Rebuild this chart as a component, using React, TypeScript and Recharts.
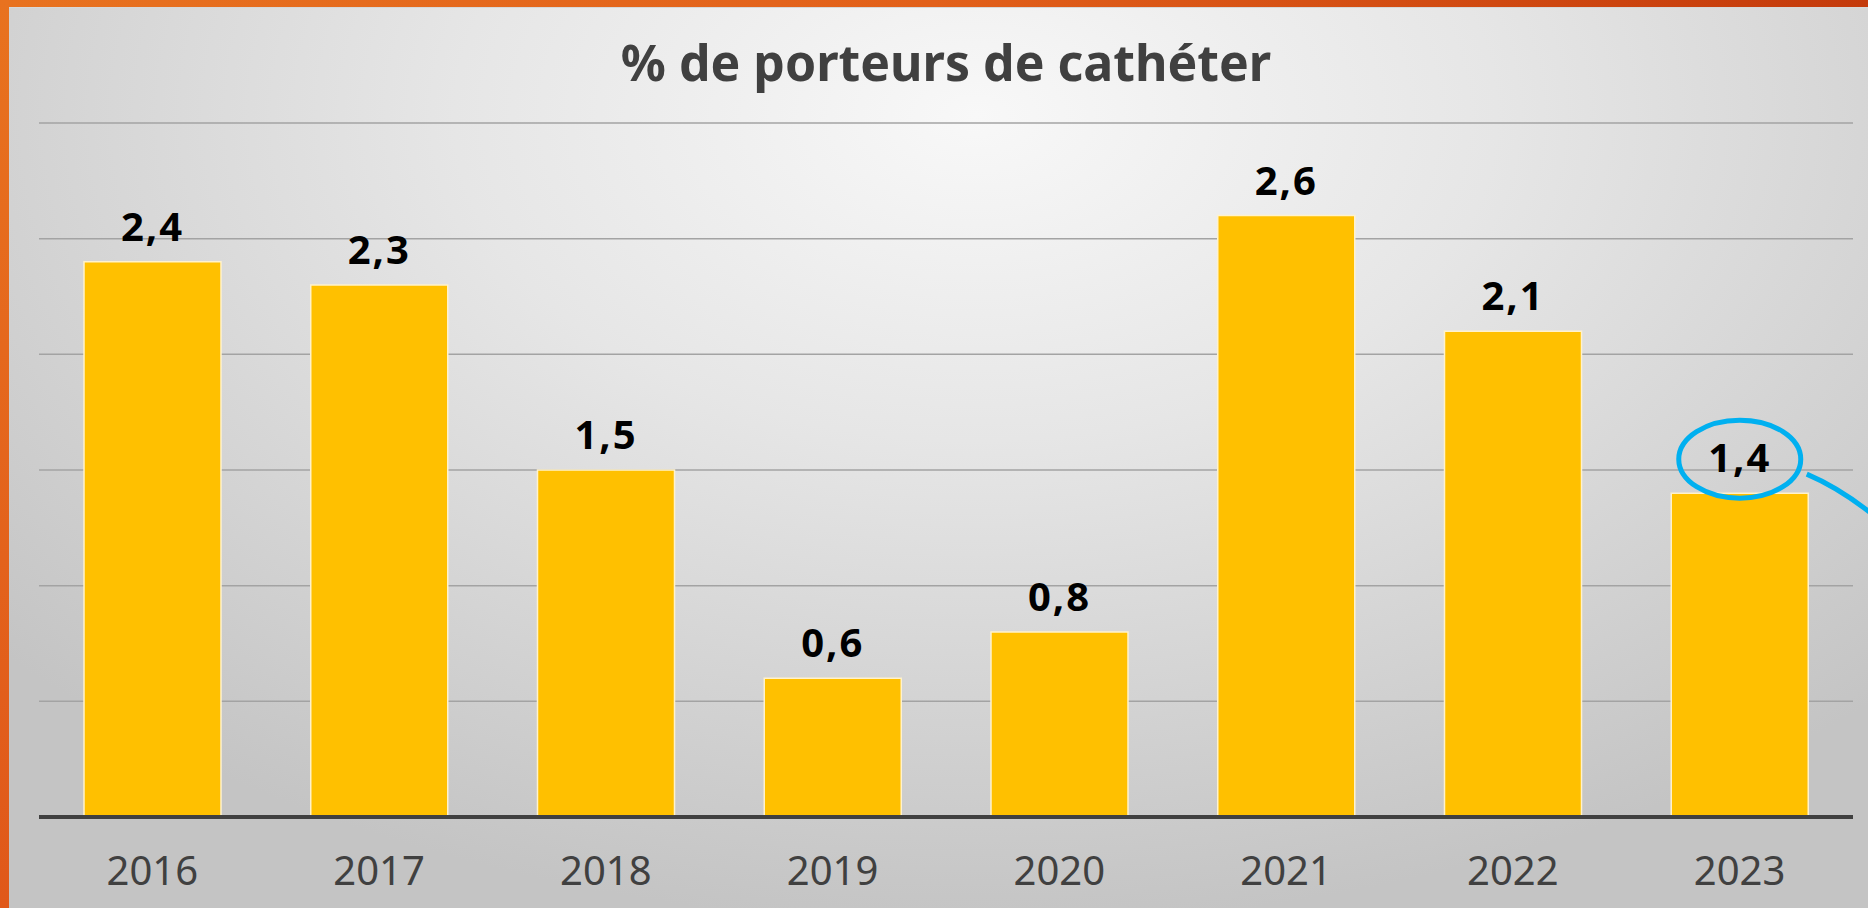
import { BarChart, Bar, XAxis, YAxis, CartesianGrid, LabelList } from "recharts";

const years = ["2016", "2017", "2018", "2019", "2020", "2021", "2022", "2023"];
const pct = [2.4, 2.3, 1.5, 0.6, 0.8, 2.6, 2.1, 1.4];
const yTicks = [0, 0.5, 1, 1.5, 2, 2.5, 3];

const data = years.map((year, i) => ({ year, pct: pct[i] }));

const FONT = "'Noto Sans', 'Open Sans', sans-serif";
const HIGHLIGHT = 7; // 2023 entouré en bleu

function ValueLabel(props: any) {
  const { x, y, width, value, index } = props;
  const cx = x + width / 2;
  const base = y - 21;
  const cy = base - 14;
  return (
    <g>
      <text
        x={cx}
        y={base}
        textAnchor="middle"
        fontFamily={FONT}
        fontWeight={700}
        fontSize={40}
        letterSpacing={2}
        fill="#000"
      >
        {Number(value).toFixed(1).replace(".", ",")}
      </text>
      {index === HIGHLIGHT && (
        <g fill="none" stroke="#00B0F0" strokeWidth={5}>
          <ellipse cx={cx} cy={cy + 1} rx={61} ry={39} />
          <path d={`M ${cx + 67} ${cy + 16} Q ${cx + 100} ${cy + 30} ${cx + 135} ${cy + 58}`} />
        </g>
      )}
    </g>
  );
}

export default function App() {
  return (
    <div
      style={{
        position: "fixed",
        left: 0,
        top: 0,
        width: 1868,
        height: 908,
        overflow: "hidden",
        background: "linear-gradient(90deg, #e8721f 0%, #e2601a 50%, #c43a0b 100%)",
      }}
    >
      {/* bande orange gauche */}
      <div
        style={{
          position: "absolute",
          left: 0,
          top: 0,
          width: 9,
          height: 908,
          background: "linear-gradient(180deg, #e8721f 0%, #e0581a 100%)",
        }}
      />
      {/* panneau gris */}
      <div
        style={{
          position: "absolute",
          left: 9,
          top: 7,
          width: 1859,
          height: 901,
          borderTop: "1px solid #d8d8d8",
          boxSizing: "border-box",
          background:
            "radial-gradient(ellipse 70% 90% at 52% 12%, #f8f8f8 0%, #e6e6e6 40%, #d2d2d2 75%, #c4c4c4 100%)",
        }}
      />
      <div
        style={{
          position: "absolute",
          left: 0,
          width: 1892,
          top: 37,
          textAlign: "center",
          fontFamily: FONT,
          fontWeight: 700,
          fontSize: 50,
          lineHeight: "50px",
          color: "#404040",
          whiteSpace: "nowrap",
        }}
      >
        % de porteurs de cathéter
      </div>
      <div style={{ position: "absolute", left: 0, top: 0 }}>
        <BarChart
          width={1868}
          height={908}
          data={data}
          margin={{ top: 123, right: 15, left: 39, bottom: 31 }}
          barCategoryGap="20%"
        >
          <CartesianGrid vertical={false} stroke="#a3a3a3" strokeWidth={1.5} />
          <YAxis hide domain={[0, 3]} ticks={yTicks} />
          <XAxis
            dataKey="year"
            height={60}
            tickLine={false}
            tickSize={0}
            tickMargin={40}
            axisLine={{ stroke: "#404040", strokeWidth: 4 }}
            tick={{ fontFamily: FONT, fontSize: 40, fill: "#404040" }}
          />
          <Bar
            dataKey="pct"
            fill="#FFC000"
            stroke="#FFF2CC"
            strokeWidth={1.5}
            barSize={137}
            isAnimationActive={false}
          >
            <LabelList dataKey="pct" content={<ValueLabel />} />
          </Bar>
        </BarChart>
      </div>
    </div>
  );
}
